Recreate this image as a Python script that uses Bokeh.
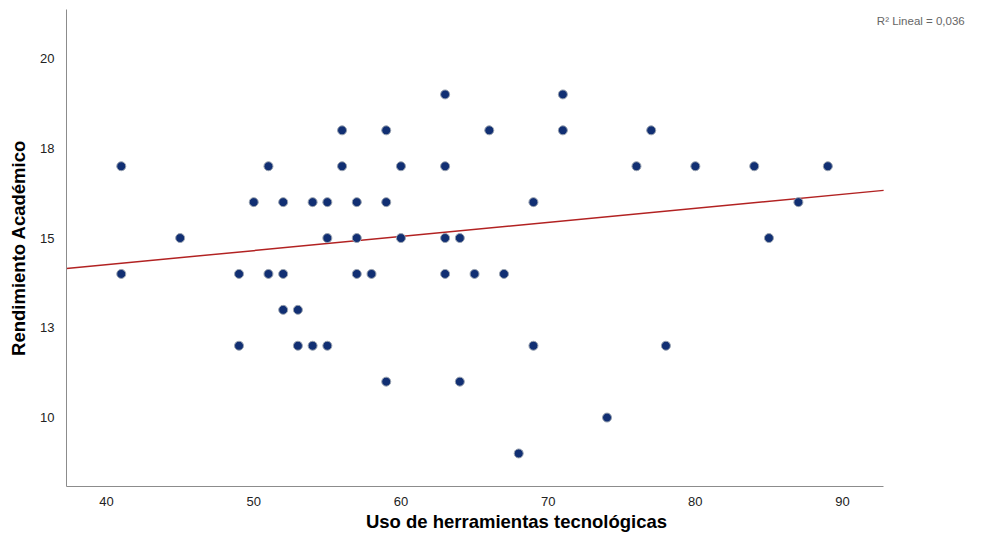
from bokeh.plotting import figure
from bokeh.models import FixedTicker, Label, Range1d, ColumnDataSource
from bokeh.embed import file_html
from bokeh.resources import INLINE

uso = [41, 41, 45, 49, 49, 50, 51, 51, 52, 52, 52, 53, 53, 54, 54, 55, 55, 55,
       56, 56, 57, 57, 57, 58, 59, 59, 59, 60, 60, 63, 63, 63, 63, 64, 64, 65,
       66, 67, 68, 69, 69, 71, 71, 74, 76, 77, 78, 80, 84, 85, 87, 89]
rendimiento = [17, 14, 15, 14, 12, 16, 17, 14, 16, 14, 13, 13, 12, 16, 12, 16, 15, 12,
               18, 17, 16, 15, 14, 14, 18, 16, 11, 17, 15, 19, 17, 15, 14, 15, 11, 14,
               18, 14, 9, 16, 12, 19, 18, 10, 17, 18, 12, 17, 17, 15, 16, 17]

x_ticks = [40, 50, 60, 70, 80, 90]
y_ticks = [10, 12.5, 15, 17.5, 20]
y_tick_labels = ["10", "13", "15", "18", "20"]
r2_text = "R² Lineal = 0,036"
fit_intercept = 12.69
fit_slope = 0.0392
x_axis_span = (37.28, 92.79)

p = figure(width=968, height=534, output_backend="svg", toolbar_location=None,
           x_range=Range1d(37.28, 98.42), y_range=Range1d(8.08, 21.365),
           min_border_left=66, min_border_right=2, min_border_top=9, min_border_bottom=48)
p.outline_line_color = None
p.grid.visible = False
p.background_fill_color = "white"
p.border_fill_color = "white"

for ax in (p.xaxis[0], p.yaxis[0]):
    ax.axis_line_color = "#8c8c8c"
    ax.axis_line_width = 1
    ax.major_tick_line_color = None
    ax.minor_tick_line_color = None
    ax.major_label_text_font = "Liberation Sans"
    ax.major_label_text_font_size = "13px"
    ax.major_label_text_color = "#222222"
    ax.axis_label_text_font = "Liberation Sans"
    ax.axis_label_text_font_style = "bold"
    ax.axis_label_text_font_size = "18.5px"
    ax.axis_label_text_color = "#000000"

p.xaxis.bounds = x_axis_span
p.xaxis.ticker = FixedTicker(ticks=x_ticks)
p.yaxis.ticker = FixedTicker(ticks=y_ticks)
p.yaxis.major_label_overrides = {t: l for t, l in zip(y_ticks, y_tick_labels)}
p.xaxis.axis_label = "Uso de herramientas tecnológicas"
p.yaxis.axis_label = "Rendimiento Académico"
p.xaxis.major_label_standoff = 4
p.xaxis.axis_label_standoff = 2
p.yaxis.major_label_standoff = 6
p.yaxis.axis_label_standoff = 8

xr = list(x_axis_span)
p.line(xr, [fit_intercept + fit_slope * v for v in xr], line_color="#b22222", line_width=1.5)

src = ColumnDataSource(dict(x=uso, y=rendimiento))
p.scatter("x", "y", source=src, size=9, fill_color="#112f73", line_color="#9aa3b0",
          line_width=1)

p.add_layout(Label(x=98.3, y=21.05, text=r2_text, text_align="right", text_baseline="middle",
                   text_font="Liberation Sans", text_font_size="11.5px", text_color="#666666"))

open("out.html", "w").write(file_html(p, INLINE))
